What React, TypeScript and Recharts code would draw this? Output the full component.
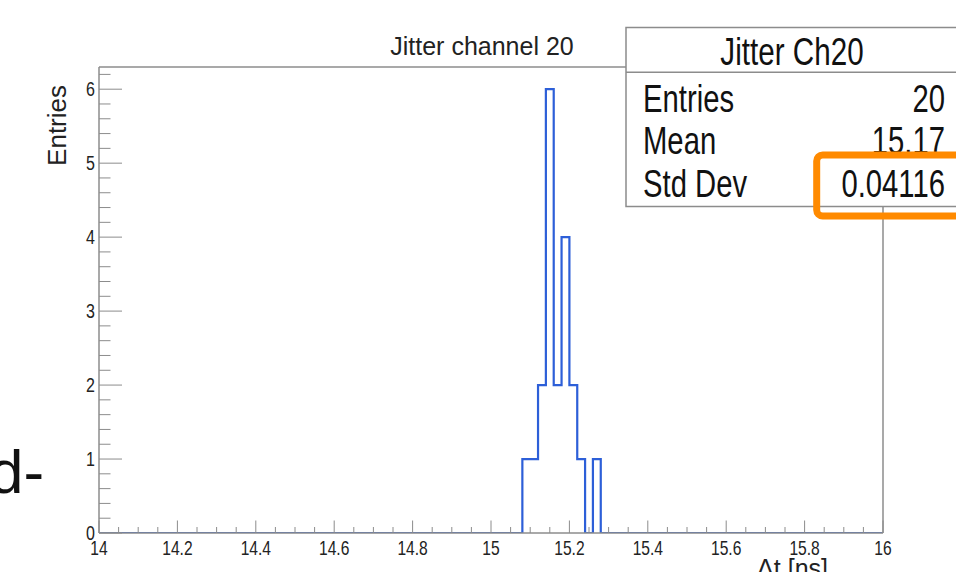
import React from 'react';
import { LineChart, Line, XAxis, YAxis } from 'recharts';

// Histogram bins (lower edge -> count), bin width 0.02 ns
const binLowEdges = [14, 15.08, 15.1, 15.12, 15.14, 15.16, 15.18, 15.2, 15.22, 15.24, 15.26, 15.28, 16];
const binCounts = [0, 1, 1, 2, 6, 2, 4, 2, 1, 0, 1, 0, 0];

const xMajorTicks = [14, 14.2, 14.4, 14.6, 14.8, 15, 15.2, 15.4, 15.6, 15.8, 16];
const xTickLabels = ['14', '14.2', '14.4', '14.6', '14.8', '15', '15.2', '15.4', '15.6', '15.8', '16'];
const yMajorTicks = [0, 1, 2, 3, 4, 5, 6];
const yTickLabels = ['0', '1', '2', '3', '4', '5', '6'];

const chartTitle = 'Jitter channel 20';
const xTitle = 'Δt [ns]';
const yTitle = 'Entries';
const statsTitle = 'Jitter Ch20';
const statsLabels = ['Entries', 'Mean', 'Std Dev'];
const statsValues = ['20', '15.17', '0.04116'];
const sideText = 'd-';

const data = binLowEdges.map((x, i) => ({ x, count: binCounts[i] }));

const xAllTicks: number[] = [];
for (let i = 0; i <= 40; i++) xAllTicks.push(Math.round((14 + i * 0.05) * 100) / 100);
const yAllTicks: number[] = [];
for (let i = 0; i <= 31; i++) yAllTicks.push(Math.round(i * 0.2 * 100) / 100);

const FONT = '"Liberation Sans", Arial, Helvetica, sans-serif';
const AXIS = '#8c8c8c';

const XTick = (props: any) => {
  const { x, y, payload } = props;
  const v = payload.value;
  const idx = xMajorTicks.findIndex((m) => Math.abs(m - v) < 1e-6);
  const major = idx >= 0;
  return (
    <g>
      <line x1={x} x2={x} y1={y} y2={y - (major ? 12.5 : 6)} stroke={AXIS} strokeWidth={1} />
      {major && (
        <text
          x={0}
          y={0}
          transform={`translate(${x},${y + 21.5}) scale(0.78,1)`}
          textAnchor="middle"
          fontSize={20}
          fill="#222"
          fontFamily={FONT}
        >
          {xTickLabels[idx]}
        </text>
      )}
    </g>
  );
};

const YTick = (props: any) => {
  const { x, y, payload } = props;
  const v = payload.value;
  const idx = yMajorTicks.findIndex((m) => Math.abs(m - v) < 1e-6);
  const major = idx >= 0;
  return (
    <g>
      <line x1={x} x2={x + (major ? 23 : 11.5)} y1={y} y2={y} stroke={AXIS} strokeWidth={1} />
      {major && (
        <text
          x={0}
          y={0}
          transform={`translate(${x - 4},${y + 7}) scale(0.8,1)`}
          textAnchor="end"
          fontSize={20}
          fill="#222"
          fontFamily={FONT}
        >
          {yTickLabels[idx]}
        </text>
      )}
    </g>
  );
};

export default function App() {
  const statsBaselines = [112, 154, 197];
  return (
    <div style={{ position: 'absolute', left: 0, top: 0, width: 956, height: 572, background: '#fff', overflow: 'hidden' }}>
      <LineChart width={956} height={572} data={data} margin={{ top: 66, right: 72, bottom: 38, left: 98 }}>
        <XAxis
          dataKey="x"
          type="number"
          domain={[14, 16]}
          ticks={xAllTicks}
          interval={0}
          height={1}
          tickSize={0}
          tickMargin={0}
          tickLine={false}
          tick={XTick}
          axisLine={{ stroke: AXIS, strokeWidth: 1.5 }}
          allowDataOverflow
        />
        <XAxis
          xAxisId="top"
          orientation="top"
          type="number"
          domain={[14, 16]}
          height={1}
          tick={false}
          tickLine={false}
          axisLine={{ stroke: AXIS, strokeWidth: 1.5 }}
        />
        <YAxis
          type="number"
          domain={[0, 6.3]}
          ticks={yAllTicks}
          interval={0}
          width={1}
          tickSize={0}
          tickMargin={0}
          tickLine={false}
          tick={YTick}
          axisLine={{ stroke: AXIS, strokeWidth: 1.5 }}
          allowDataOverflow
        />
        <YAxis
          yAxisId="right"
          orientation="right"
          type="number"
          domain={[0, 6.3]}
          width={1}
          tick={false}
          tickLine={false}
          axisLine={{ stroke: AXIS, strokeWidth: 1.5 }}
        />
        <Line
          dataKey="count"
          type="stepAfter"
          stroke="#2d5fd8"
          strokeWidth={2.2}
          dot={false}
          activeDot={false}
          isAnimationActive={false}
        />
      </LineChart>
      <svg
        width={956}
        height={600}
        style={{ position: 'absolute', left: 0, top: 0, pointerEvents: 'none', overflow: 'visible' }}
      >
        <text x={482} y={55} textAnchor="middle" fontSize={25} fill="#222" fontFamily={FONT}>
          {chartTitle}
        </text>
        <text
          x={0}
          y={0}
          transform="translate(66,85) rotate(-90)"
          textAnchor="end"
          fontSize={26}
          fill="#222"
          fontFamily={FONT}
        >
          {yTitle}
        </text>
        <text x={828} y={577} textAnchor="end" fontSize={25} fill="#222" fontFamily={FONT}>
          {xTitle}
        </text>
        <text x={-11} y={493} fontSize={62} fill="#111" fontFamily={FONT}>
          {sideText}
        </text>
        {/* stats box */}
        <rect x={626} y={27.5} width={332} height={179} fill="#fff" stroke={AXIS} strokeWidth={1.5} />
        <line x1={626} x2={958} y1={72.3} y2={72.3} stroke={AXIS} strokeWidth={1.5} />
        <text
          x={0}
          y={0}
          transform="translate(792,65) scale(0.76,1)"
          textAnchor="middle"
          fontSize={39}
          fill="#111"
          fontFamily={FONT}
        >
          {statsTitle}
        </text>
        {statsLabels.map((l, i) => (
          <text
            key={l}
            x={0}
            y={0}
            transform={`translate(643,${statsBaselines[i]}) scale(0.75,1)`}
            fontSize={39}
            fill="#111"
            fontFamily={FONT}
          >
            {l}
          </text>
        ))}
        {statsValues.map((v, i) => (
          <text
            key={v}
            x={0}
            y={0}
            transform={`translate(945,${statsBaselines[i]}) scale(0.75,1)`}
            textAnchor="end"
            fontSize={39}
            fill="#111"
            fontFamily={FONT}
          >
            {v}
          </text>
        ))}
        <rect x={816.7} y={155} width={170} height={61} rx={6} fill="none" stroke="#ff8a00" strokeWidth={7} />
      </svg>
    </div>
  );
}
